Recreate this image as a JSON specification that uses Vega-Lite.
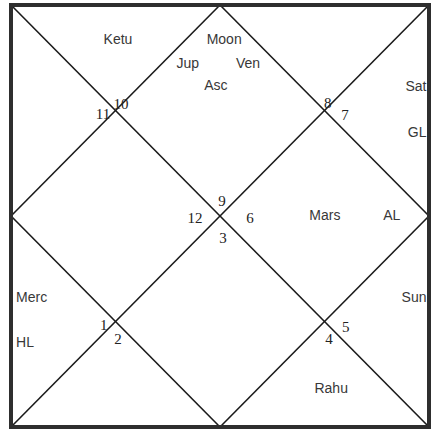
{
  "$schema": "https://vega.github.io/schema/vega-lite/v6.json",
  "width": 418,
  "height": 422,
  "padding": {"left": 11, "right": 7, "top": 5, "bottom": 2},
  "autosize": {"type": "none"},
  "background": "white",
  "config": {"view": {"stroke": null}},
  "datasets": {
    "border": [
      {"x": 0, "y": 0, "x2": 100, "y2": 0},
      {"x": 100, "y": 0, "x2": 100, "y2": 100},
      {"x": 100, "y": 100, "x2": 0, "y2": 100},
      {"x": 0, "y": 100, "x2": 0, "y2": 0}
    ],
    "lines": [
      {"x": 0, "y": 0, "x2": 100, "y2": 100},
      {"x": 100, "y": 0, "x2": 0, "y2": 100},
      {"x": 50, "y": 0, "x2": 100, "y2": 50},
      {"x": 100, "y": 50, "x2": 50, "y2": 100},
      {"x": 50, "y": 100, "x2": 0, "y2": 50},
      {"x": 0, "y": 50, "x2": 50, "y2": 0}
    ],
    "planets_center": [
      {"label": "Ketu", "x": 25.6, "y": 8.3},
      {"label": "Moon", "x": 51.0, "y": 8.3},
      {"label": "Jup", "x": 42.3, "y": 14.0},
      {"label": "Ven", "x": 56.7, "y": 13.9},
      {"label": "Asc", "x": 49.0, "y": 19.2},
      {"label": "Mars", "x": 75.1, "y": 50.0},
      {"label": "AL", "x": 91.1, "y": 50.0},
      {"label": "Rahu", "x": 76.6, "y": 91.0}
    ],
    "planets_left": [
      {"label": "Merc", "x": 1.2, "y": 69.4},
      {"label": "HL", "x": 1.2, "y": 80.1}
    ],
    "planets_right": [
      {"label": "Sat", "x": 99.4, "y": 19.4},
      {"label": "GL", "x": 99.4, "y": 30.3},
      {"label": "Sun", "x": 99.4, "y": 69.4}
    ],
    "houses": [
      {"label": "11", "x": 22.0, "y": 25.8},
      {"label": "10", "x": 26.3, "y": 23.4},
      {"label": "8", "x": 75.8, "y": 23.3},
      {"label": "7", "x": 79.9, "y": 26.1},
      {"label": "9", "x": 50.5, "y": 46.4},
      {"label": "12", "x": 44.0, "y": 50.5},
      {"label": "6", "x": 57.2, "y": 50.5},
      {"label": "3", "x": 50.7, "y": 55.2},
      {"label": "1", "x": 22.2, "y": 75.8},
      {"label": "2", "x": 25.6, "y": 79.1},
      {"label": "5", "x": 80.1, "y": 76.3},
      {"label": "4", "x": 76.1, "y": 79.1}
    ]
  },
  "encoding": {
    "x": {"field": "x", "type": "quantitative", "scale": {"domain": [0, 100], "nice": false, "zero": false}, "axis": null},
    "y": {"field": "y", "type": "quantitative", "scale": {"domain": [0, 100], "nice": false, "zero": false, "reverse": true}, "axis": null}
  },
  "layer": [
    {
      "data": {"name": "lines"},
      "mark": {"type": "rule", "color": "#1a1a1a", "strokeWidth": 1.6},
      "encoding": {"x2": {"field": "x2"}, "y2": {"field": "y2"}}
    },
    {
      "data": {"name": "border"},
      "mark": {"type": "rule", "color": "#2e2e2e", "strokeWidth": 4, "strokeCap": "square"},
      "encoding": {"x2": {"field": "x2"}, "y2": {"field": "y2"}}
    },
    {
      "data": {"name": "planets_center"},
      "mark": {"type": "text", "font": "Liberation Sans", "fontSize": 14, "color": "#383838", "align": "center", "baseline": "middle"},
      "encoding": {"text": {"field": "label"}}
    },
    {
      "data": {"name": "planets_left"},
      "mark": {"type": "text", "font": "Liberation Sans", "fontSize": 14, "color": "#383838", "align": "left", "baseline": "middle"},
      "encoding": {"text": {"field": "label"}}
    },
    {
      "data": {"name": "planets_right"},
      "mark": {"type": "text", "font": "Liberation Sans", "fontSize": 14, "color": "#383838", "align": "right", "baseline": "middle"},
      "encoding": {"text": {"field": "label"}}
    },
    {
      "data": {"name": "houses"},
      "mark": {"type": "text", "font": "Liberation Serif", "fontSize": 15, "color": "#222222", "align": "center", "baseline": "middle"},
      "encoding": {"text": {"field": "label"}}
    }
  ]
}
